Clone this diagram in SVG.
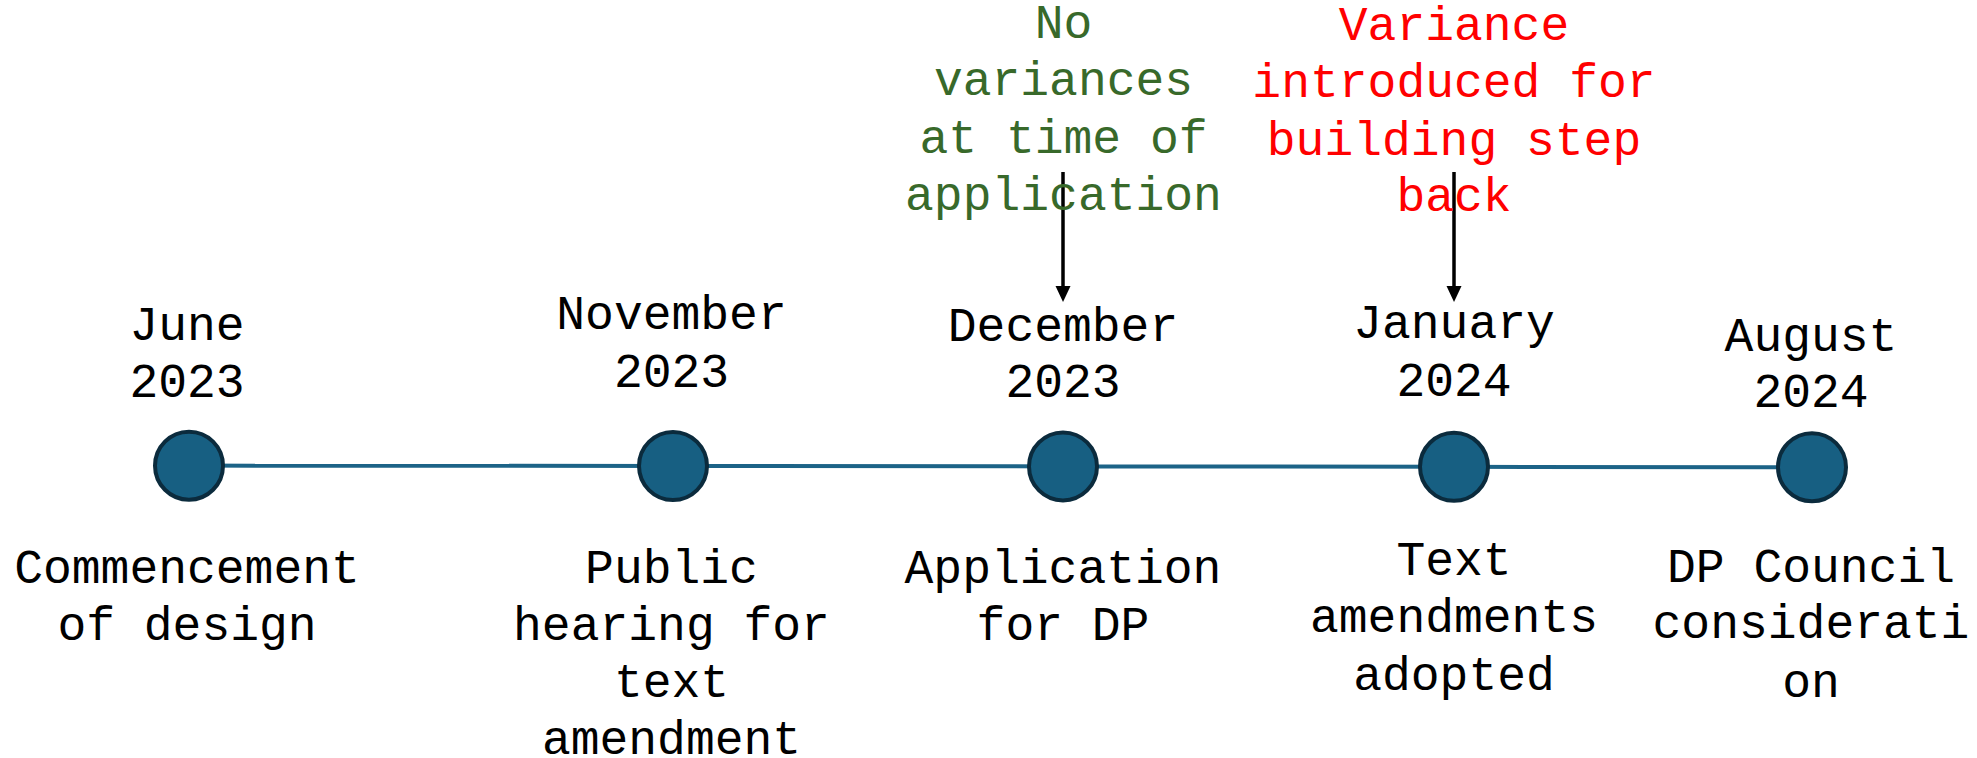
<svg xmlns="http://www.w3.org/2000/svg" width="1977" height="758" viewBox="0 0 1977 758">
<style>
text{font-family:"Liberation Mono","Courier New",monospace;font-size:48px;text-anchor:middle;fill:#000}
.green{fill:#38692a}
.red{fill:#ff0000}
.node circle{fill:#175f82;stroke:#0b2b3d;stroke-width:4}
.timeline{stroke:#1c6387;stroke-width:4;fill:none}
.arrow{stroke:#000;stroke-width:3.5;fill:none}
</style>
<defs>
<marker id="ah" viewBox="0 0 10 10" refX="5" refY="10" markerWidth="15" markerHeight="16" markerUnits="userSpaceOnUse" orient="auto-start-reverse">
<path d="M0,0 L10,0 L5,10 Z" fill="#000" transform="rotate(0)"/>
</marker>
</defs>
<rect width="1977" height="758" fill="#fff"/>
<g id="connectors">
<line class="timeline" x1="189" y1="465.6" x2="673" y2="466"/>
<line class="timeline" x1="673" y1="466" x2="1063" y2="466.4"/>
<line class="timeline" x1="1063" y1="466.4" x2="1454" y2="466.8"/>
<line class="timeline" x1="1454" y1="466.8" x2="1812" y2="467.2"/>
<path class="arrow" d="M1063,172 V286"/>
<path d="M1055.5,286 L1070.5,286 L1063,302 Z" fill="#000"/>
<path class="arrow" d="M1454,172 V286"/>
<path d="M1446.5,286 L1461.5,286 L1454,302 Z" fill="#000"/>
</g>
<g id="node-june-2023" class="node">
<circle cx="189" cy="465.7" r="34"/>
<text x="187" y="340">June</text>
<text x="187" y="397">2023</text>
<text x="187" y="583">Commencement</text>
<text x="187" y="640">of design</text>
</g>
<g id="node-november-2023" class="node">
<circle cx="673" cy="466" r="34"/>
<text x="671.5" y="329.3">November</text>
<text x="671.5" y="386.7">2023</text>
<text x="671.5" y="583.3">Public</text>
<text x="671.5" y="640">hearing for</text>
<text x="671.5" y="697">text</text>
<text x="671.5" y="754">amendment</text>
</g>
<g id="node-december-2023" class="node">
<circle cx="1063" cy="466.4" r="34"/>
<text x="1063" y="340.5">December</text>
<text x="1063" y="397">2023</text>
<text x="1063" y="583">Application</text>
<text x="1063" y="640">for DP</text>
</g>
<g id="node-january-2024" class="node">
<circle cx="1454" cy="466.8" r="34"/>
<text x="1454" y="338.3">January</text>
<text x="1454" y="395.7">2024</text>
<text x="1454" y="575">Text</text>
<text x="1454" y="632.3">amendments</text>
<text x="1454" y="690">adopted</text>
</g>
<g id="node-august-2024" class="node">
<circle cx="1812" cy="467.2" r="34"/>
<text x="1811" y="350.7">August</text>
<text x="1811" y="407.3">2024</text>
<text x="1811" y="581.7">DP Council</text>
<text x="1811" y="638.3">considerati</text>
<text x="1811" y="696.7">on</text>
</g>
<g id="note-no-variances">
<text class="green" x="1063.5" y="37.7">No</text>
<text class="green" x="1063.5" y="95">variances</text>
<text class="green" x="1063.5" y="153">at time of</text>
<text class="green" x="1063.5" y="210">application</text>
</g>
<g id="note-variance-introduced">
<text class="red" x="1454" y="40">Variance</text>
<text class="red" x="1454" y="97">introduced for</text>
<text class="red" x="1454" y="154.5">building step</text>
<text class="red" x="1454" y="211">back</text>
</g>
</svg>
